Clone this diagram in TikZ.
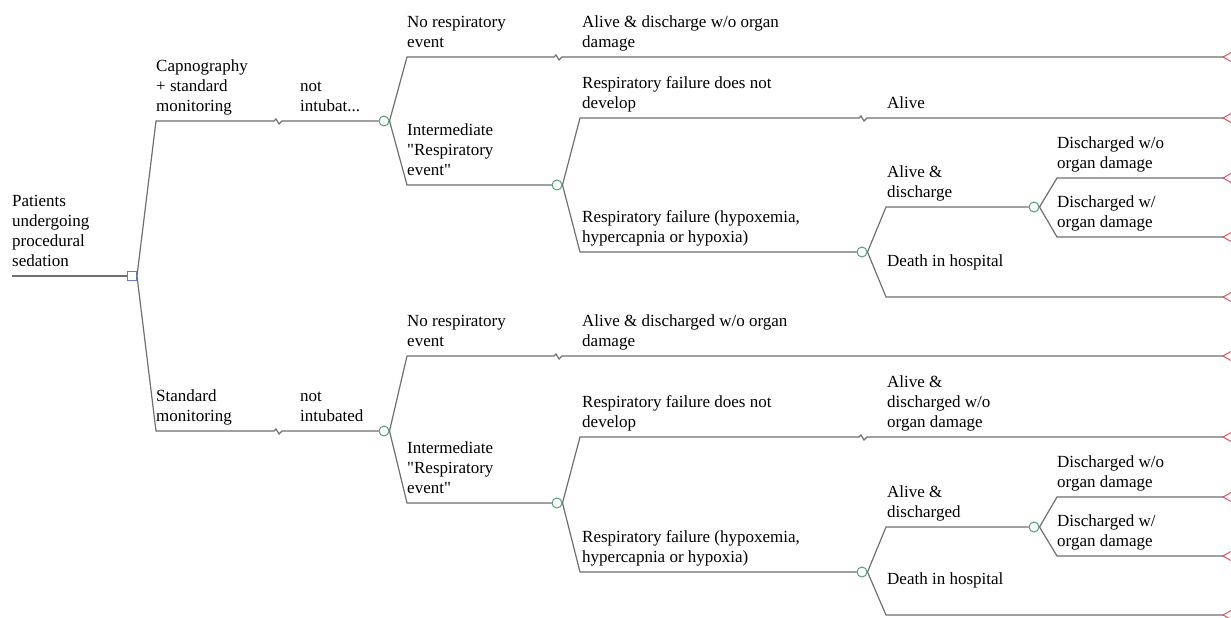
\documentclass[tikz,border=0pt]{standalone}
\usepackage{fontspec}
\setmainfont{Liberation Serif}[Ligatures=TeXOff]
\usepackage{tikz}
\usetikzlibrary{positioning}

\definecolor{branchgray}{RGB}{112,112,112}
\definecolor{chancegreen}{RGB}{80,160,120}
\definecolor{decblue}{RGB}{95,125,200}
\definecolor{termred}{RGB}{232,64,84}

% small break mark on a branch
\newcommand{\notch}{-- ++(2,-2) -- ++(3,5) -- ++(3,-3)}

\tikzset{
	lbl/.style={anchor=south west, inner sep=0pt, align=left, font=\fontsize{17}{20}\selectfont, execute at end node=\strut},
	chc/.style={circle, draw=chancegreen, fill=white, minimum size=10pt, inner sep=0pt, line width=1pt},
	dec/.style={rectangle, draw=decblue, fill=white, minimum size=9pt, inner sep=0pt, line width=1pt},
	br/.style={draw=branchgray, line width=1.2pt},
	endtri/.style={draw=termred, line width=0.9pt}
}

\begin{document}
\begin{tikzpicture}[x=1pt, y=-1pt]
				\clip (0,0) rectangle (1231,618);
				\fill[white] (0,0) rectangle (1231,618);
				
				% decision and chance nodes
				\coordinate (start) at (12,276);
				\node[dec] (root) at (132,276) {};
				\node[chc] (c1) at (384,121) {};
				\node[chc] (c2) at (557,185) {};
				\node[chc] (c3) at (862,252) {};
				\node[chc] (c4) at (1034,207) {};
				\node[chc] (c5) at (384,431) {};
				\node[chc] (c6) at (557,503) {};
				\node[chc] (c7) at (862,572) {};
				\node[chc] (c8) at (1034,527) {};
				
				% corners of the branches
				\coordinate (a1) at (156,121);
				\coordinate (a2) at (156,431);
				\coordinate (b1) at (407,57);
				\coordinate (b2) at (407,185);
				\coordinate (d1) at (580,118);
				\coordinate (d2) at (580,252);
				\coordinate (e1) at (886,207);
				\coordinate (e2) at (886,297);
				\coordinate (f1) at (1057,178);
				\coordinate (f2) at (1057,237);
				\coordinate (g1) at (407,356);
				\coordinate (g2) at (407,503);
				\coordinate (h1) at (580,437);
				\coordinate (h2) at (580,572);
				\coordinate (i1) at (886,527);
				\coordinate (i2) at (886,615);
				\coordinate (j1) at (1057,497);
				\coordinate (j2) at (1057,556);
				
				% terminal nodes
				\coordinate (t1) at (1223,57);
				\coordinate (t2) at (1223,118);
				\coordinate (t3) at (1223,178);
				\coordinate (t4) at (1223,237);
				\coordinate (t5) at (1223,297);
				\coordinate (t6) at (1223,356);
				\coordinate (t7) at (1223,437);
				\coordinate (t8) at (1223,497);
				\coordinate (t9) at (1223,556);
				\coordinate (t10) at (1223,615);
				
				% upper tree
				\draw[br] (start) -- (root.west);
				\draw[br] (root.east) -- (a1) -- (274,121) \notch -- (c1);
				\draw[br] (root.east) -- (a2) -- (274,431) \notch -- (c5);
				\draw[br] (c1.east) -- (b1) -- (554,57) \notch -- (t1);
				\draw[br] (c1.east) -- (b2) -- (c2);
				\draw[br] (c2.east) -- (d1) -- (859,118) \notch -- (t2);
				\draw[br] (c2.east) -- (d2) -- (c3);
				\draw[br] (c3.east) -- (e1) -- (c4);
				\draw[br] (c3.east) -- (e2) -- (t5);
				\draw[br] (c4.east) -- (f1) -- (t3);
				\draw[br] (c4.east) -- (f2) -- (t4);
				
				% lower tree
				\draw[br] (c5.east) -- (g1) -- (554,356) \notch -- (t6);
				\draw[br] (c5.east) -- (g2) -- (c6);
				\draw[br] (c6.east) -- (h1) -- (859,437) \notch -- (t7);
				\draw[br] (c6.east) -- (h2) -- (c7);
				\draw[br] (c7.east) -- (i1) -- (c8);
				\draw[br] (c7.east) -- (i2) -- (t10);
				\draw[br] (c8.east) -- (j1) -- (t8);
				\draw[br] (c8.east) -- (j2) -- (t9);
				
				\foreach \t in {t1,t2,t3,t4,t5,t6,t7,t8,t9,t10}
				\draw[endtri] (\t) -- ++(16,-9) -- ++(0,18) -- cycle;
				
				% labels
				\node[lbl] (lroot) at (12,273) {Patients\\undergoing\\procedural\\sedation};
				\node[lbl] (lcap) at (156,118) {Capnography\\+ standard\\monitoring};
				\node[lbl] (lnot1) at (300,118) {not\\intubat...};
				\node[lbl] (lnore1) at (407,54) {No respiratory\\event};
				\node[lbl] (lalive1) at (582,54) {Alive \& discharge w/o organ\\damage};
				\node[lbl] (lint1) at (407,182) {Intermediate\\"Respiratory\\event"};
				\node[lbl] (lrfnd1) at (582,115) {Respiratory failure does not\\develop};
				\node[lbl] (lalv1) at (887,115) {Alive};
				\node[lbl] (lrf1) at (582,249) {Respiratory failure (hypoxemia,\\hypercapnia or hypoxia)};
				\node[lbl] (lad1) at (887,204) {Alive \&\\discharge};
				\node[lbl] (ldeath1) at (887,273) {Death in hospital};
				\node[lbl] (ldwo1) at (1057,175) {Discharged w/o\\organ damage};
				\node[lbl] (ldw1) at (1057,234) {Discharged w/\\organ damage};
				
				\node[lbl] (lstd) at (156,428) {Standard\\monitoring};
				\node[lbl] (lnot2) at (300,428) {not\\intubated};
				\node[lbl] (lnore2) at (407,353) {No respiratory\\event};
				\node[lbl] (lalive2) at (582,353) {Alive \& discharged w/o organ\\damage};
				\node[lbl] (lint2) at (407,500) {Intermediate\\"Respiratory\\event"};
				\node[lbl] (lrfnd2) at (582,434) {Respiratory failure does not\\develop};
				\node[lbl] (lalv2) at (887,434) {Alive \&\\discharged w/o\\organ damage};
				\node[lbl] (lrf2) at (582,569) {Respiratory failure (hypoxemia,\\hypercapnia or hypoxia)};
				\node[lbl] (lad2) at (887,524) {Alive \&\\discharged};
				\node[lbl] (ldeath2) at (887,591) {Death in hospital};
				\node[lbl] (ldwo2) at (1057,494) {Discharged w/o\\organ damage};
				\node[lbl] (ldw2) at (1057,553) {Discharged w/\\organ damage};
\end{tikzpicture}
\end{document}
